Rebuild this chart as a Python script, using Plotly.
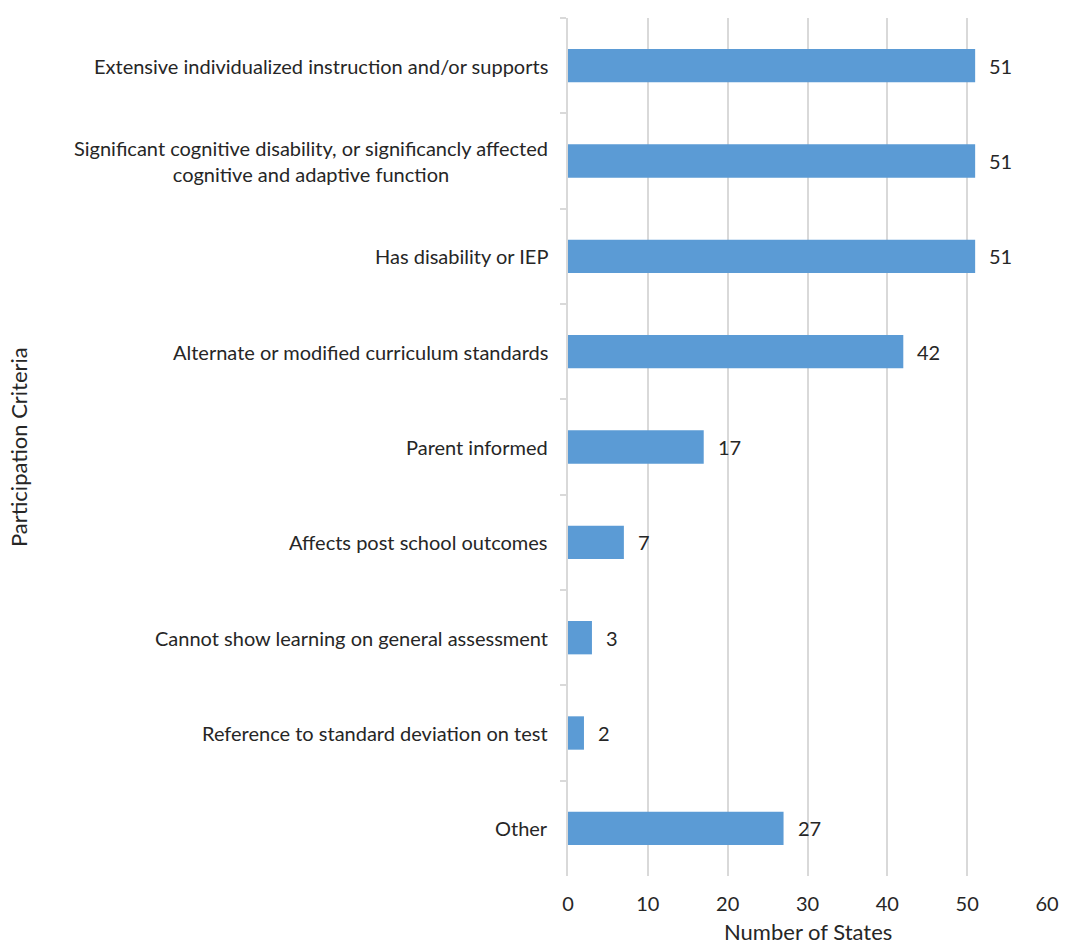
import plotly.graph_objects as go

categories = [
    "Extensive individualized instruction and/or supports",
    "Significant cognitive disability, or significancly affected<br>cognitive and adaptive function",
    "Has disability or IEP",
    "Alternate or modified curriculum standards",
    "Parent informed",
    "Affects post school outcomes",
    "Cannot show learning on general assessment",
    "Reference to standard deviation on test",
    "Other",
]
states = [51, 51, 51, 42, 17, 7, 3, 2, 27]
x_ticks = [0, 10, 20, 30, 40, 50, 60]

FONT = "Lato, Open Sans, sans-serif"
TEXT = "#262626"
GRID = "#d9d9d9"
BAR = "#5b9bd5"

fig = go.Figure(
    go.Bar(
        y=categories,
        x=states,
        orientation="h",
        marker=dict(color=BAR, line=dict(width=0)),
        hoverinfo="skip",
    )
)

# value labels just right of each bar
for cat, val in zip(categories, states):
    fig.add_annotation(
        x=val, y=cat, xref="x", yref="y",
        text=str(val), showarrow=False,
        xanchor="left", xshift=12,
        font=dict(family=FONT, size=20, color=TEXT),
    )

# category labels, centred line by line
for cat in categories:
    fig.add_annotation(
        x=0, y=cat, xref="x", yref="y",
        text=cat, showarrow=False,
        xanchor="right", align="center", xshift=-18,
        font=dict(family=FONT, size=20, color=TEXT),
    )

# axis titles
fig.add_annotation(
    x=0, y=0.5, xref="paper", yref="paper",
    xanchor="center", yanchor="middle",
    xshift=-550, text="Participation Criteria", textangle=-90,
    showarrow=False, font=dict(family=FONT, size=22, color=TEXT),
)
fig.add_annotation(
    x=0.5, y=0, xref="paper", yref="paper",
    xanchor="center", yanchor="middle",
    yshift=-55, text="Number of States", showarrow=False,
    font=dict(family=FONT, size=22, color=TEXT),
)

fig.update_layout(
    width=1071, height=947,
    margin=dict(l=568, r=12, t=18, b=71),
    paper_bgcolor="white", plot_bgcolor="white",
    bargap=0.65,
    showlegend=False,
    font=dict(family=FONT, size=20, color=TEXT),
)
fig.update_xaxes(
    range=[0, 60], tickvals=x_ticks,
    showgrid=True, gridcolor=GRID, gridwidth=2,
    zeroline=False, showline=False, ticks="",
    ticklabelstandoff=14,
    tickfont=dict(family=FONT, size=20, color=TEXT),
    fixedrange=True,
)
fig.update_yaxes(
    autorange="reversed",
    showgrid=False, showticklabels=False,
    showline=True, linecolor=GRID, linewidth=2,
    ticks="outside", tickson="boundaries", ticklen=6,
    tickcolor=GRID, tickwidth=2,
    fixedrange=True,
)

fig.write_html("out.html")
